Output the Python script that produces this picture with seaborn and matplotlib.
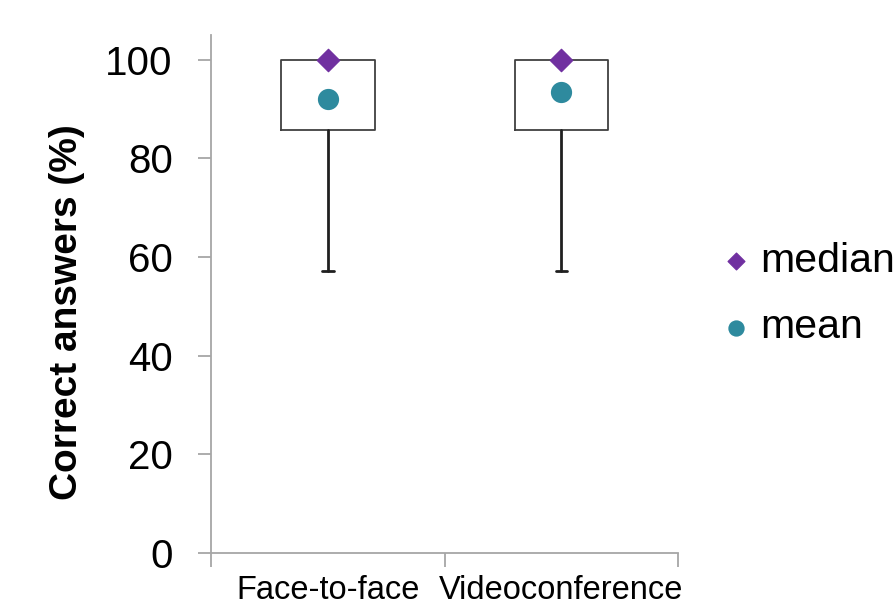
import numpy as np
import matplotlib.pyplot as plt
import seaborn as sns

# ============================================================================
# DATA
# ============================================================================

groups = ["Face-to-face", "Videoconference"]
whisker_low = [57.1, 57.1]
q1 = [85.7, 85.7]
q3 = [100.0, 100.0]
whisker_high = [100.0, 100.0]
medians = [100.0, 100.0]
means = [92.1, 93.4]

# ============================================================================
# STYLE
# ============================================================================

sns.set_theme(style="white")
plt.rcParams['font.family'] = ['Liberation Sans', 'DejaVu Sans']
plt.rcParams['text.color'] = "black"
plt.rcParams['axes.labelcolor'] = "black"

purple = "#7030A0"
teal = "#2E8A9E"
axis_grey = "#A6A6A6"

fig = plt.figure(figsize=(8.96, 6.10), dpi=100)
ax = fig.add_axes([0.2355, 0.0934, 0.5215, 0.8492])

# ============================================================================
# BOXES
# ============================================================================

stats = []
for i in range(len(groups)):
    stats.append({
        "whislo": whisker_low[i],
        "q1": q1[i],
        "med": medians[i],
        "q3": q3[i],
        "whishi": whisker_high[i],
        "fliers": [],
    })

ax.bxp(
    stats,
    positions=range(len(groups)),
    widths=0.4,
    showfliers=False,
    boxprops=dict(color="#404040", linewidth=1.3),
    whiskerprops=dict(color="#202020", linewidth=2),
    capprops=dict(color="#202020", linewidth=2),
    medianprops=dict(linewidth=0),
    capwidths=0.05,
)

# ============================================================================
# MEDIAN / MEAN MARKERS
# ============================================================================

xs = np.arange(len(groups))
sns.scatterplot(x=xs, y=medians, marker="D", s=130, color=purple,
                edgecolor=purple, ax=ax, label="median", zorder=5)
sns.scatterplot(x=xs, y=means, marker="o", s=200, color=teal,
                edgecolor=teal, ax=ax, label="mean", zorder=5)

# ============================================================================
# AXES
# ============================================================================

ax.set_xlim(-0.5, 1.5)
ax.set_ylim(0, 105)
ax.set_yticks([0, 20, 40, 60, 80, 100])
ax.set_xticks(xs)
ax.set_xticklabels(groups, fontsize=23.5)
ax.set_xticks([-0.5, 0.5, 1.5], minor=True)

ax.tick_params(axis="x", which="major", bottom=True, length=0, pad=15.5,
               labelcolor="black")
ax.tick_params(axis="x", which="minor", bottom=True, length=10, width=1.3,
               color=axis_grey, direction="out")
ax.tick_params(axis="y", left=True, length=9.5, width=1.3, color=axis_grey,
               direction="out", labelsize=29, pad=18, labelcolor="black")

for side in ["top", "right"]:
    ax.spines[side].set_visible(False)
for side in ["left", "bottom"]:
    ax.spines[side].set_color(axis_grey)
    ax.spines[side].set_linewidth(1.3)

ax.set_ylabel("Correct answers (%)", fontsize=28, fontweight="bold")
ax.yaxis.set_label_coords(-0.27, 0.465)
ax.set_xlabel("")

ax.legend(
    loc="center left",
    bbox_to_anchor=(1.0, 0.5),
    frameon=False,
    fontsize=29.5,
    handletextpad=0.1,
    labelspacing=0.7,
    handlelength=1.0,
    markerscale=0.75,
)

plt.savefig("out.png", dpi=100)
